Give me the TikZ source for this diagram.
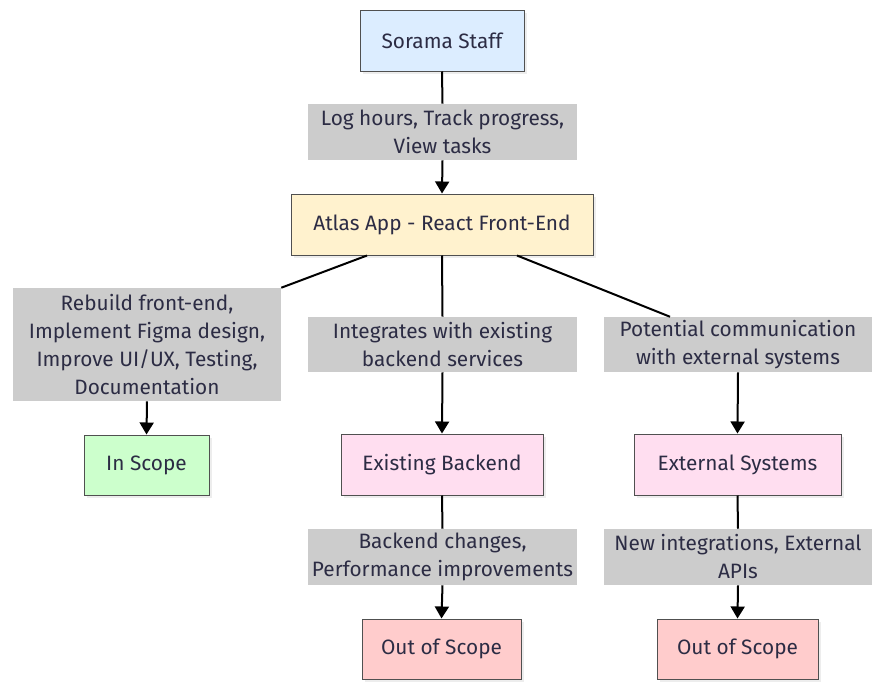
\documentclass[tikz,border=0pt]{standalone}
\usepackage{fontspec}
\setmainfont{Fira Sans}
\usetikzlibrary{arrows.meta,shadows}
\definecolor{txt}{RGB}{44,44,68}
\definecolor{bordc}{RGB}{80,80,80}
\definecolor{cblue}{RGB}{220,237,255}
\definecolor{cyellow}{RGB}{255,242,206}
\definecolor{cgreen}{RGB}{204,255,204}
\definecolor{cpink}{RGB}{255,222,240}
\definecolor{cred}{RGB}{255,204,204}
\definecolor{clabel}{RGB}{204,204,204}
\begin{document}
\begin{tikzpicture}[x=0.75pt,y=-0.75pt,
  sz/.style 2 args={minimum width=#1*0.75pt, minimum height=#2*0.75pt},
  base/.style={inner sep=0pt, align=center, text=txt,
    font=\fontsize{15.6}{21}\selectfont},
  box/.style={base, draw=bordc, line width=0.75pt, fill=#1,
    drop shadow={shadow xshift=2.5pt, shadow yshift=-2.5pt, fill=black, opacity=0.07}},
  lbl/.style={base, fill=clabel},
  edge/.style={draw=black, line width=1.5pt},
  arr/.style={edge, -{Triangle[width=10.5pt,length=9pt]}}
]
\useasboundingbox (0,0) rectangle (889,696);
\fill[white] (0,0) rectangle (889,696);

\node[box=cblue, sz={164}{61}] (staff) at (442,40.5) {Sorama Staff};
\node[box=cyellow, sz={302}{61}] (atlas) at (442,224.5) {Atlas App - React Front-End};
\node[box=cgreen, sz={125}{60}] (inscope) at (146.5,465) {In Scope};
\node[box=cpink, sz={202}{61}] (backend) at (442,464.5) {Existing Backend};
\node[box=cpink, sz={207}{61}] (ext) at (737.5,464.5) {External Systems};
\node[box=cred, sz={159}{60}] (outM) at (441.5,649) {Out of Scope};
\node[box=cred, sz={161}{60}] (outR) at (737.5,649) {Out of Scope};

\node[lbl, sz={269}{56}] (l1) at (442.5,132) {Log hours, Track progress,\\View tasks};
\node[lbl, sz={268}{113}] (lL) at (147,344.5) {Rebuild front-end,\\Implement Figma design,\\Improve UI/UX, Testing,\\Documentation};
\node[lbl, sz={269}{55}] (lM) at (442.5,344.5) {Integrates with existing\\backend services};
\node[lbl, sz={268}{55}] (lR) at (738,344.5) {Potential communication\\with external systems};
\node[lbl, sz={269}{56}] (lBM) at (442.5,557) {Backend changes,\\Performance improvements};
\node[lbl, sz={268}{56}] (lBR) at (738,557) {New integrations, External\\APIs};

\draw[edge] (staff.south) -- (l1.north);
\draw[arr] (l1.south) -- (atlas.north);
\draw[edge] ([xshift=-56.25pt]atlas.south) -- (lL.north east);
\draw[arr] (lL.south) -- (inscope.north);
\draw[edge] (atlas.south) -- (lM.north);
\draw[arr] (lM.south) -- (backend.north);
\draw[edge] ([xshift=56.25pt]atlas.south) -- ([xshift=-51pt]lR.north);
\draw[arr] (lR.south) -- (ext.north);
\draw[edge] (backend.south) -- (lBM.north);
\draw[arr] (lBM.south) -- (outM.north);
\draw[edge] (ext.south) -- (lBR.north);
\draw[arr] (lBR.south) -- (outR.north);
\end{tikzpicture}
\end{document}
